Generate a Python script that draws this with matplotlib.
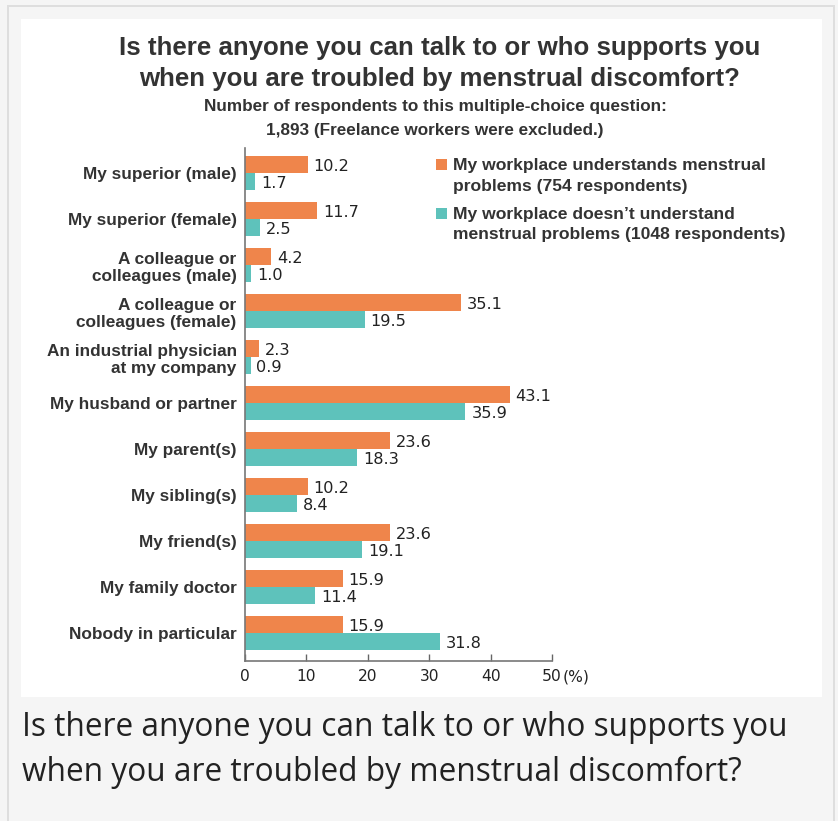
import matplotlib
matplotlib.use("Agg")
import matplotlib.pyplot as plt
from matplotlib.patches import Rectangle

categories = [
    "My superior (male)",
    "My superior (female)",
    "A colleague or\ncolleagues (male)",
    "A colleague or\ncolleagues (female)",
    "An industrial physician\nat my company",
    "My husband or partner",
    "My parent(s)",
    "My sibling(s)",
    "My friend(s)",
    "My family doctor",
    "Nobody in particular",
]
understands = [10.2, 11.7, 4.2, 35.1, 2.3, 43.1, 23.6, 10.2, 23.6, 15.9, 15.9]
not_understands = [1.7, 2.5, 1.0, 19.5, 0.9, 35.9, 18.3, 8.4, 19.1, 11.4, 31.8]
series_names = [
    ["My workplace understands menstrual", "problems (754 respondents)"],
    ["My workplace doesn\u2019t understand", "menstrual problems (1048 respondents)"],
]
xticks = [0, 10, 20, 30, 40, 50]
title = "Is there anyone you can talk to or who supports you\nwhen you are troubled by menstrual discomfort?"
subtitle1 = "Number of respondents to this multiple-choice question:"
subtitle2 = "1,893 (Freelance workers were excluded.)"
caption = ["Is there anyone you can talk to or who supports you",
           "when you are troubled by menstrual discomfort?"]

ORANGE = "#EF854B"
TEAL = "#5EC2BB"
COLORS = [ORANGE, TEAL]
W, H = 838, 821

fig = plt.figure(figsize=(W / 100, H / 100), dpi=100, facecolor="#f5f5f5")

def fx(px):
    return px / W

def fy(py):
    return 1 - py / H

def rect(x0, y0, x1, y1, color, z=-10):
    r = Rectangle((fx(x0), fy(y1)), (x1 - x0) / W, (y1 - y0) / H, transform=fig.transFigure,
                  facecolor=color, edgecolor="none", zorder=z)
    fig.patches.append(r)

rect(7, 5, 9, 821, "#dedede")
rect(833, 5, 835, 821, "#dedede")
rect(7, 5, 835, 7, "#dedede")
rect(21, 19, 822, 697, "white")

sans = ["Liberation Sans", "DejaVu Sans"]
num = ["DejaVu Sans"]

fig.text(fx(440), fy(63.5), title, ha="center", va="center", fontsize=18.6, fontweight="bold",
         family=sans, color="#333333", linespacing=1.36)
fig.text(fx(435), fy(107), subtitle1, ha="center", va="center", fontsize=12.3, fontweight="bold",
         family=sans, color="#333333")
fig.text(fx(435), fy(130), subtitle2, ha="center", va="center", fontsize=12.3, fontweight="bold",
         family=sans, color="#333333")

ax = fig.add_axes([fx(245), fy(661), (552 - 245) / W, (661 - 148) / H])
ax.set_facecolor("none")
n = len(categories)
ys = list(range(n))
bh = 0.37
yo = [y - bh / 2 for y in ys]
yt = [y + bh / 2 for y in ys]
ax.barh(yo, understands, height=bh, color=ORANGE)
ax.barh(yt, not_understands, height=bh, color=TEAL)
for y, v in zip(yo, understands):
    ax.annotate(f"{v:.1f}", (v, y), xytext=(4.3, 0), textcoords="offset points",
                ha="left", va="center_baseline", fontsize=11.6, family=num, color="#222222")
for y, v in zip(yt, not_understands):
    ax.annotate(f"{v:.1f}", (v, y), xytext=(4.3, 0), textcoords="offset points",
                ha="left", va="center_baseline", fontsize=11.6, family=num, color="#222222")

ax.set_xlim(0, 50)
ax.set_ylim(10.6, -0.55)
ax.set_yticks(ys)
ax.set_yticklabels(categories, fontsize=12.4, fontweight="bold", family=sans,
                   color="#333333", linespacing=1.22)
ax.tick_params(axis="y", length=0, pad=6)
ax.set_xticks(xticks)
ax.set_xticklabels([str(t) for t in xticks], fontsize=11.2, family=num, color="#222222")
ax.tick_params(axis="x", direction="in", length=5, width=1, color="#666666", pad=6)
for s in ["top", "right"]:
    ax.spines[s].set_visible(False)
for s in ["left", "bottom"]:
    ax.spines[s].set_color("#777777")
    ax.spines[s].set_linewidth(1.2)

# "(%)" unit right after the last tick label
ax.annotate("(%)", (50, 0), xycoords=ax.get_xaxis_transform(),
            xytext=(7.8, -6), textcoords="offset points", ha="left", va="top",
            fontsize=11.2, family=num, color="#222222")

# legend (drawn as figure text + squares)
legend_tops = [159, 208]
for i, (lines, col) in enumerate(zip(series_names, COLORS)):
    t = legend_tops[i]
    rect(436, t, 447, t + 11, col, z=5)
    for j, line in enumerate(lines):
        fig.text(fx(453), fy(t + 11 + 20.5 * j), line, ha="left", va="baseline",
                 fontsize=12.6, fontweight="bold", family=sans, color="#333333")

# caption
cap = ["Open Sans", "DejaVu Sans"]
fig.text(fx(22), fy(736), caption[0], ha="left", va="baseline", fontsize=22.8, family=cap, color="#222222")
fig.text(fx(22), fy(781), caption[1], ha="left", va="baseline", fontsize=22.8, family=cap, color="#222222")

fig.savefig("out.png", dpi=100, facecolor=fig.get_facecolor())
